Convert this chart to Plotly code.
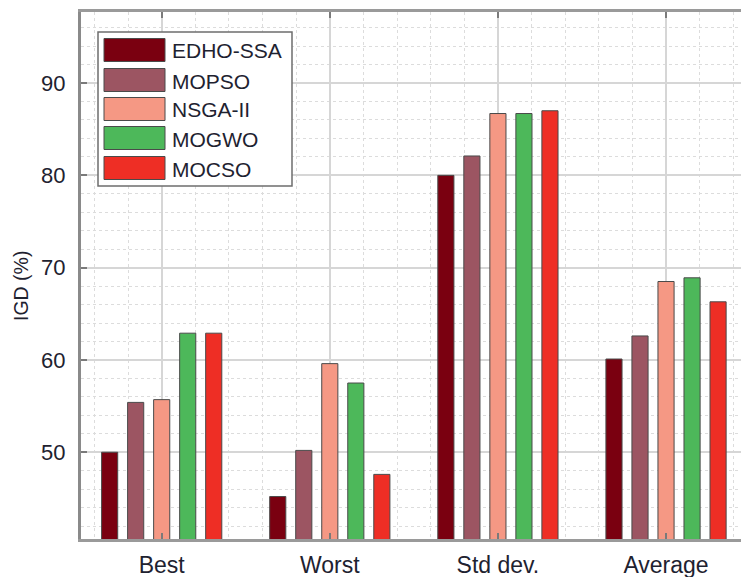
import plotly.graph_objects as go

# Data
categories = ["Best", "Worst", "Std dev.", "Average"]
methods = ["EDHO-SSA", "MOPSO", "NSGA-II", "MOGWO", "MOCSO"]
edho_ssa = [50.0, 45.2, 80.0, 60.1]
mopso = [55.4, 50.2, 82.1, 62.6]
nsga_ii = [55.7, 59.6, 86.7, 68.5]
mogwo = [62.9, 57.5, 86.7, 68.9]
mocso = [62.9, 47.6, 87.0, 66.3]
series = [edho_ssa, mopso, nsga_ii, mogwo, mocso]
colors = ["#7a0010", "#9c5562", "#f59884", "#4db85a", "#ee2e25"]

W, H = 741, 577
L, R, T, B = 81, 0, 12, 38
FONT = "Liberation Sans, Arial, sans-serif"
TEXT = "#1e2230"

x_pos = list(range(1, len(categories) + 1))

fig = go.Figure()
for name, vals, col in zip(methods, series, colors):
    fig.add_trace(go.Bar(
        x=x_pos, y=vals, name=name, marker_color=col,
        marker_line=dict(color="#4a4a4a", width=1), showlegend=False,
    ))

# Hand-built legend box with wide colour swatches (pixel -> paper coords)
pw, ph = W - L - R, H - T - B
def px(x):
    return (x - L) / pw
def py(y):
    return (H - B - y) / ph

shapes = [dict(type="rect", xref="paper", yref="paper",
               x0=px(98), x1=px(292), y0=py(32), y1=py(186),
               fillcolor="white", line=dict(color="#6e6e6e", width=1.5), layer="above")]
annotations = []
row_y = [50, 80, 109, 138, 168]
for name, col, cy in zip(methods, colors, row_y):
    shapes.append(dict(type="rect", xref="paper", yref="paper",
                       x0=px(104), x1=px(165), y0=py(cy - 11.5), y1=py(cy + 11.5),
                       fillcolor=col, line=dict(color="#4a4a4a", width=1), layer="above"))
    annotations.append(dict(xref="paper", yref="paper", x=px(170), y=py(cy + 1),
                            text=name, showarrow=False, xanchor="left", yanchor="middle",
                            font=dict(family=FONT, size=21, color=TEXT)))

# y-axis title
annotations.append(dict(xref="paper", yref="paper", x=px(21), y=py(286),
                        text="IGD (%)", textangle=-90, showarrow=False,
                        xanchor="center", yanchor="middle",
                        font=dict(family=FONT, size=19.5, color=TEXT)))

fig.update_layout(
    width=W, height=H,
    margin=dict(l=L, r=R, t=T, b=B, pad=0),
    paper_bgcolor="white", plot_bgcolor="white",
    barmode="group", bargap=0.226, bargroupgap=0.38,
    shapes=shapes, annotations=annotations,
    font=dict(family=FONT, color=TEXT),
)
fig.update_xaxes(
    range=[0.52, 4.446], tickvals=x_pos, ticktext=categories,
    tickfont=dict(size=23, color=TEXT),
    showline=True, linecolor="#9a9a9a", linewidth=3, mirror="ticks",
    ticks="inside", ticklen=6, tickcolor="#7a7a7a", tickwidth=1.5,
    showgrid=True, gridcolor="#d6d6d6", gridwidth=1.5,
    minor=dict(dtick=0.2, tick0=0, showgrid=True, gridcolor="#dcdcdc",
               griddash="dot", gridwidth=1, ticks=""),
    zeroline=False, ticklabelstandoff=3,
)
fig.update_yaxes(
    range=[40.6, 97.7], tickvals=[50, 60, 70, 80, 90],
    tickfont=dict(size=22, color=TEXT),
    showline=True, linecolor="#8a8a8a", linewidth=3, mirror=False,
    ticks="inside", ticklen=6, tickcolor="#7a7a7a", tickwidth=1.5,
    showgrid=True, gridcolor="#d6d6d6", gridwidth=1.5,
    minor=dict(dtick=2, tick0=0, showgrid=True, gridcolor="#dcdcdc",
               griddash="dot", gridwidth=1, ticks=""),
    zeroline=False, ticklabelstandoff=8,
)

fig.write_html("out.html")
